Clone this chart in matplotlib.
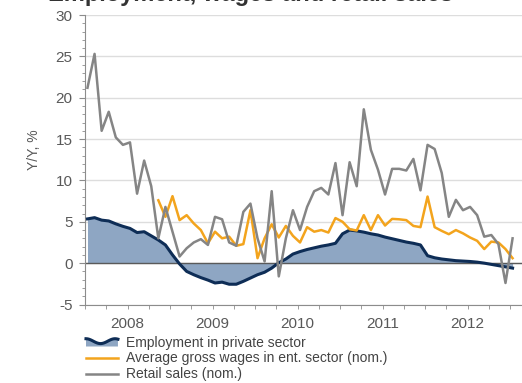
import numpy as np
import matplotlib
matplotlib.use("Agg")
import matplotlib.pyplot as plt
import matplotlib.ticker as mticker
from matplotlib.legend_handler import HandlerBase
from matplotlib.patches import Polygon, Patch
from matplotlib.lines import Line2D

plt.rcParams['font.family'] = ['Liberation Sans', 'DejaVu Sans']
plt.rcParams['axes.unicode_minus'] = False

# monthly data, Jan 2008 .. Jan 2013, Y/Y %
months = np.arange(61)
years = [2008, 2009, 2010, 2011, 2012]

employment = [5.35, 5.5, 5.2, 5.1, 4.75, 4.45, 4.2, 3.7, 3.8, 3.3,
              2.8, 2.2, 1.0, -0.1, -1.0, -1.4, -1.75, -2.05, -2.4, -2.3,
              -2.55, -2.55, -2.2, -1.8, -1.4, -1.1, -0.6, 0.05, 0.5, 1.1,
              1.4, 1.65, 1.85, 2.05, 2.2, 2.4, 3.55, 4.0, 3.9, 3.75,
              3.55, 3.4, 3.15, 2.95, 2.75, 2.55, 2.4, 2.2, 0.9, 0.65,
              0.5, 0.4, 0.3, 0.25, 0.2, 0.12, 0.0, -0.15, -0.3, -0.45,
              -0.6]

# wages series starts in Nov 2008
wages = [np.nan] * 10 + [
    7.6, 5.6, 8.1, 5.2, 5.8, 4.8, 4.0, 2.4, 3.8, 3.0,
    3.2, 2.1, 2.3, 6.4, 0.6, 3.0, 4.7, 3.1, 4.5, 3.3,
    2.5, 4.35, 3.8, 4.0, 3.7, 5.45, 5.0, 4.1, 3.95, 5.8,
    4.0, 5.8, 4.55, 5.35, 5.3, 5.2, 4.5, 4.35, 8.05, 4.35,
    3.9, 3.5, 4.0, 3.6, 3.1, 2.7, 1.7, 2.6, 2.5, 1.7,
    0.6]

retail = [21.2, 25.3, 16.0, 18.3, 15.2, 14.3, 14.6, 8.4, 12.4, 9.3,
          3.0, 6.8, 3.8, 0.8, 1.8, 2.5, 2.9, 2.2, 5.6, 5.3,
          2.5, 2.1, 6.2, 7.2, 3.0, 0.2, 8.7, -1.6, 3.0, 6.4,
          4.0, 6.8, 8.7, 9.1, 8.3, 12.1, 5.8, 12.2, 9.3, 18.6,
          13.7, 11.3, 8.3, 11.4, 11.4, 11.2, 12.6, 8.8, 14.3, 13.8,
          10.9, 5.6, 7.65, 6.4, 6.8, 5.8, 3.2, 3.4, 2.3, -2.4,
          3.0]

labels = ["Employment in private sector",
          "Average gross wages in ent. sector (nom.)",
          "Retail sales (nom.)"]

x = 2008 + (months + 0.35) / 12

navy = '#0e2d56'
fill_c = '#8ea6c3'
orange = '#f3a41d'
grey = '#858585'
txt = '#595959'


class WaveHandler(HandlerBase):
    # little area+line symbol for the employment series
    def create_artists(self, legend, orig_handle, xdescent, ydescent,
                       width, height, fontsize, trans):
        t = np.linspace(0, 1, 30)
        xs = -xdescent + t * width
        ys = -ydescent + height * (0.55 + 0.25 * np.cos(2 * np.pi * 1.1 * t))
        poly = Polygon(np.column_stack([np.r_[xs, xs[-1], xs[0]],
                                        np.r_[ys, -ydescent, -ydescent]]),
                       closed=True, facecolor=fill_c, edgecolor='none',
                       transform=trans)
        ln = Line2D(xs, ys, color=navy, lw=2.2, transform=trans)
        return [poly, ln]


fig = plt.figure(figsize=(5.22, 3.83), dpi=100)
ax = fig.add_axes([85 / 522, 1 - 304.5 / 383, 437 / 522, (304.5 - 15) / 383])

ax.fill_between(x, employment, 0, color=fill_c, lw=0, zorder=1)
ax.axhline(0, color='#5a5a5a', lw=1, zorder=2)
ax.plot(x, employment, color=navy, lw=2.2, zorder=3)
ax.plot(x, wages, color=orange, lw=1.8, zorder=4)
ax.plot(x, retail, color=grey, lw=1.8, zorder=5)

ax.set_ylim(-5, 30)
ax.set_yticks(range(-5, 31, 5))
ax.yaxis.set_minor_locator(mticker.MultipleLocator(1))
ax.yaxis.grid(True, color='#dddddd', lw=1)
ax.set_axisbelow(True)

ax.set_xlim(2008, 2013.14)
ax.set_xticks([y + 0.5 for y in years])
ax.set_xticklabels([str(y) for y in years])
ax.xaxis.set_minor_locator(mticker.FixedLocator(np.arange(2008, 2013.2, 0.25)))
ax.xaxis.remove_overlapping_locs = False

ax.tick_params(axis='y', which='major', length=4, color='#8c8c8c',
               labelcolor=txt, labelsize=11, pad=5)
ax.tick_params(axis='y', which='minor', length=2, color='#8c8c8c')
ax.tick_params(axis='x', which='major', length=0, labelcolor=txt,
               labelsize=11, pad=9)
ax.tick_params(axis='x', which='minor', length=3, color='#8c8c8c')

for s in ['top', 'right']:
    ax.spines[s].set_visible(False)
for s in ['left', 'bottom']:
    ax.spines[s].set_color('#8c8c8c')

ax.set_ylabel('Y/Y, %', color=txt, fontsize=10)
ax.yaxis.set_label_coords(-0.10, 0.534)

# title sits mostly above the cropped picture, only its lower edge shows
fig.text(48 / 522, 1 - 1.5 / 383, 'Employment, wages and retail sales',
         fontsize=17, fontweight='bold', color='#333333', va='baseline')

handles = [Patch(), Line2D([], [], color=orange, lw=1.8),
           Line2D([], [], color=grey, lw=1.8)]
fig.legend(handles, labels, loc='upper left',
           bbox_to_anchor=(86 / 522, 1 - 335.5 / 383), frameon=False,
           fontsize=10, handlelength=2.3, handletextpad=0.55,
           labelspacing=0.14, borderpad=0, borderaxespad=0,
           handler_map={Patch: WaveHandler()}, labelcolor='#444444')

fig.savefig('out.png', dpi=100)
